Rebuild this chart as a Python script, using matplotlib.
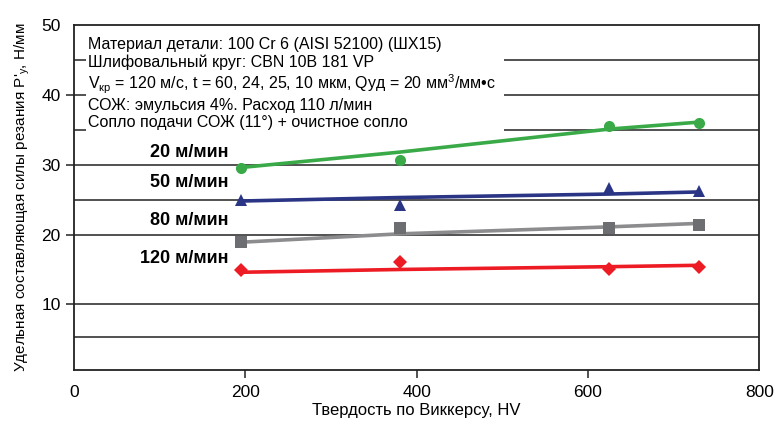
import matplotlib
matplotlib.use("Agg")
import matplotlib.pyplot as plt
from matplotlib.patches import Rectangle

plt.rcParams.update({
    "font.family": ["Liberation Sans", "DejaVu Sans"],
    "mathtext.fontset": "custom",
    "mathtext.rm": "Liberation Sans",
    "mathtext.it": "Liberation Sans",
    "mathtext.bf": "Liberation Sans:bold",
})

# ───── данные ─────
hv = [195, 380, 625, 730]

p20 = [29.5, 30.7, 35.6, 36.0]
p50 = [24.9, 24.3, 26.6, 26.3]
p80 = [19.0, 21.0, 21.0, 21.4]
p120 = [14.9, 16.1, 15.0, 15.3]

trend20 = [29.6, 31.8, 35.1, 36.1]
trend50 = [24.8, 25.3, 25.8, 26.1]
trend80 = [18.9, 20.1, 21.1, 21.6]
trend120 = [14.6, 15.0, 15.4, 15.6]

speeds = ["20 м/мин", "50 м/мин", "80 м/мин", "120 м/мин"]
grid_levels = [5.4, 10, 20, 25, 30, 35, 40, 45]

info_lines = [
    "Материал детали: 100 Cr 6 (AISI 52100) (ШХ15)",
    "Шлифовальный круг: CBN 10B 181 VP",
    "V$_{кр}$ = 120 м/с, t = 60, 24, 25, 10 мкм, Qуд = 20 мм$^3$/мм•с",
    "СОЖ: эмульсия 4%. Расход 110 л/мин",
    "Сопло подачи СОЖ (11°) + очистное сопло",
]

fig = plt.figure(figsize=(7.76, 4.21), dpi=100)
ax = fig.add_axes([0.0954, 0.121, 0.883, 0.8196])
ax.set_xlim(0, 800)
ax.set_ylim(0.6, 50)

for lv in grid_levels:
    ax.axhline(lv, color="#222222", linewidth=1.1, zorder=1)

# белая подложка под текстом условий
ax.add_patch(Rectangle((14, 33.4), 488, 15.2, facecolor="white",
                       edgecolor="none", zorder=2))

series = [
    (p20, trend20, "#3aaa48", "#3aaa48", "o", 8),
    (p50, trend50, "#2b3585", "#2b3585", "^", 9),
    (p80, trend80, "#8c8c8e", "#6d6e71", "s", 8),
    (p120, trend120, "#ed1c24", "#ed1c24", "D", 7.5),
]
for pts, tr, lc, mc, mk, ms in series:
    ax.plot(hv, tr, color=lc, linewidth=2.6, zorder=3, solid_capstyle="round")
    ax.plot(hv, pts, linestyle="none", marker=mk, markersize=ms,
            color=mc, markeredgewidth=0, zorder=4)

label_y = [31.7, 27.5, 22.0, 16.6]
for txt, yy in zip(speeds, label_y):
    ax.text(180, yy, txt, ha="right", va="center", fontsize=13,
            fontweight="bold", zorder=5)

ax.text(16, 48.3, "\n".join(info_lines), ha="left", va="top",
        fontsize=11.5, linespacing=1.17, zorder=5)

ax.set_xticks([0, 200, 400, 600, 800])
ax.set_yticks([10, 20, 30, 40, 50])
ax.tick_params(axis="both", direction="out", length=6, width=1.1,
               labelsize=12.5, color="#222222")
ax.tick_params(axis="x", pad=5)
xt = ax.xaxis.get_major_ticks()
xt[0].tick1line.set_visible(False)
xt[-1].tick1line.set_visible(False)
ax.yaxis.get_major_ticks()[-1].tick1line.set_visible(False)

for sp in ax.spines.values():
    sp.set_linewidth(1.3)
    sp.set_color("#222222")

ax.set_xlabel("Твердость по Виккерсу, HV", fontsize=12, labelpad=2)
ax.set_ylabel("Удельная составляющая силы резания P$'_y$, Н/мм",
              fontsize=11, labelpad=7)

fig.savefig("out.png", dpi=100)
